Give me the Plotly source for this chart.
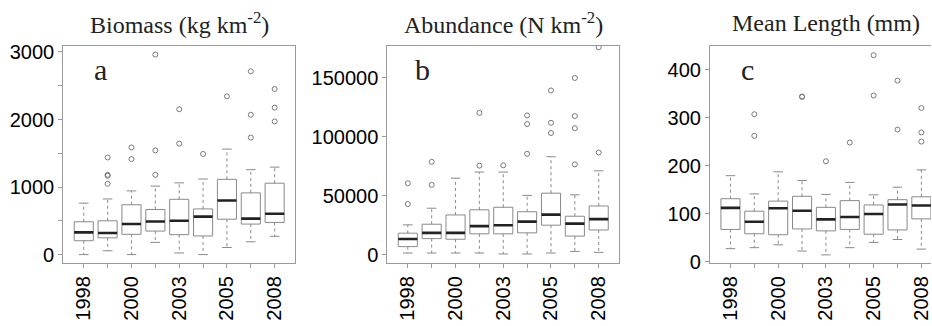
import plotly.graph_objects as go

W, H = 932, 326

# ---------------- data ----------------
years = ["1998", "1999", "2000", "2001", "2003", "2004", "2005", "2006", "2008"]
labeled_years = ["1998", "2000", "2003", "2005", "2008"]

# Panel a: Biomass (kg km-2)
bio_low = [0, 57, 0, 181, 24, 0, 105, 190, 271]
bio_q1 = [205, 248, 300, 348, 295, 276, 524, 452, 476]
bio_med = [329, 319, 452, 490, 500, 562, 800, 533, 605]
bio_q3 = [486, 500, 738, 667, 819, 676, 1114, 914, 1057]
bio_high = [762, 824, 943, 1014, 1062, 1119, 1562, 1257, 1295]
bio_out = [[], [1438, 1181, 1167, 1048], [1586, 1414], [2962, 1543, 1181],
           [2152, 1643], [1490], [2343], [2714, 2071, 1733], [2452, 2176, 1971]]

# Panel b: Abundance (N km-2)
abu_low = [1356, 1356, 1356, 1356, 542, 542, 1356, 2712, 1899]
abu_q1 = [6781, 13562, 13020, 17631, 17631, 18445, 24955, 15732, 20886]
abu_med = [13291, 18445, 18445, 24141, 24955, 27939, 33906, 26311, 30108]
abu_q3 = [18174, 25768, 33635, 37975, 40145, 36347, 52080, 32550, 41230]
abu_high = [25226, 39331, 64828, 69982, 69982, 50181, 83002, 50723, 71067]
abu_out = [[60488, 42857], [78662, 59132], [], [120163, 75407], [75678],
           [117993, 110669, 85443], [139150, 111754, 103074],
           [149729, 117450, 107143, 76492], [175769, 86528]]

# Panel c: Mean Length (mm)
len_low = [27, 29, 35, 22, 14, 29, 40, 46, 26]
len_q1 = [67, 58, 56, 68, 64, 67, 57, 66, 89]
len_med = [112, 83, 111, 106, 88, 93, 99, 119, 117]
len_q3 = [131, 105, 126, 136, 113, 127, 118, 129, 135]
len_high = [179, 141, 187, 169, 140, 165, 139, 155, 191]
len_out = [[], [307, 262], [], [344, 343], [209], [248], [430, 346], [377, 275],
           [320, 269, 250]]

titles = ["Biomass (kg km<sup>-2</sup>)", "Abundance (N km<sup>-2</sup>)", "Mean Length (mm)"]
letters = ["a", "b", "c"]

bio_ticks = [0, 1000, 2000, 3000]
bio_ticktext = ["0", "1000", "2000", "3000"]
bio_minor = 500
abu_ticks = [0, 50000, 100000, 150000]
abu_ticktext = ["0", "50000", "100000", "150000"]
abu_minor = 50000
len_ticks = [0, 100, 200, 300, 400]
len_ticktext = ["0", "100", "200", "300", "400"]
len_minor = 100

# ---------------- styling / layout ----------------
BOX_C = "#8a8a8a"
WHISK_C = "#8a8a8a"
FRAME_C = "#9a9a9a"
MED_C = "#222222"
SANS = "Liberation Sans, Arial, sans-serif"
SERIF = "Liberation Serif, Times New Roman, serif"


def px_x(p):
    return p / W


def px_y(p):
    return (H - p) / H


frames = [(63.3, 295.5), (387.7, 619.9), (710.7, 942.9)]
frame_top, frame_bot = 43.3, 270.0
unit_px = (frames[0][1] - frames[0][0]) / 9.72

panels = [
    (bio_low, bio_q1, bio_med, bio_q3, bio_high, bio_out, [-128, 3095],
     bio_ticks, bio_ticktext, bio_minor),
    (abu_low, abu_q1, abu_med, abu_q3, abu_high, abu_out, [-7300, 177200],
     abu_ticks, abu_ticktext, abu_minor),
    (len_low, len_q1, len_med, len_q3, len_high, len_out, [-3.4, 450],
     len_ticks, len_ticktext, len_minor),
]

fig = go.Figure()
pos = list(range(1, len(years) + 1))
label_pos = [pos[years.index(y)] for y in labeled_years]
BW = 0.8
CAP = 0.2

for k, (lo, q1, med, q3, hi, out, yr, tv, tt, minor_step) in enumerate(panels):
    xa = "x" if k == 0 else f"x{k+1}"
    ya = "y" if k == 0 else f"y{k+1}"
    wx, wy = [], []
    for p, a, b, c, d in zip(pos, lo, q1, q3, hi):
        wx += [p, p, None, p, p, None]
        wy += [c, d, None, b, a, None]
    fig.add_trace(go.Scatter(x=wx, y=wy, mode="lines", xaxis=xa, yaxis=ya,
                             line=dict(color=WHISK_C, width=1, dash="dot"),
                             hoverinfo="skip", showlegend=False))
    cx, cy = [], []
    for p, a, d in zip(pos, lo, hi):
        cx += [p - CAP, p + CAP, None, p - CAP, p + CAP, None]
        cy += [a, a, None, d, d, None]
    fig.add_trace(go.Scatter(x=cx, y=cy, mode="lines", xaxis=xa, yaxis=ya,
                             line=dict(color=WHISK_C, width=1),
                             hoverinfo="skip", showlegend=False))
    fig.add_trace(go.Box(x=pos, q1=q1, median=med, q3=q3, lowerfence=q1, upperfence=q3,
                         width=BW, whiskerwidth=0, xaxis=xa, yaxis=ya,
                         line=dict(color=BOX_C, width=1), fillcolor="white",
                         boxpoints=False, showlegend=False))
    mx, my = [], []
    for p, m in zip(pos, med):
        mx += [p - BW / 2, p + BW / 2, None]
        my += [m, m, None]
    fig.add_trace(go.Scatter(x=mx, y=my, mode="lines", xaxis=xa, yaxis=ya,
                             line=dict(color=MED_C, width=2.6),
                             hoverinfo="skip", showlegend=False))
    ox, oy = [], []
    for p, vals in zip(pos, out):
        for v in vals:
            ox.append(p)
            oy.append(v)
    fig.add_trace(go.Scatter(x=ox, y=oy, mode="markers", xaxis=xa, yaxis=ya,
                             marker=dict(symbol="circle-open", size=5, color="#7a7a7a",
                                         line=dict(width=1, color="#7a7a7a")),
                             hoverinfo="skip", showlegend=False))

    f0, f1 = frames[k]
    if k < 2:
        dom = [px_x(f0), px_x(f1)]
        xr = [0.14, 9.86]
    else:
        dom = [px_x(f0), 1.0]
        xr = [0.14, 0.14 + (W - f0) / unit_px]
    xkey = "xaxis" if k == 0 else f"xaxis{k+1}"
    ykey = "yaxis" if k == 0 else f"yaxis{k+1}"
    fig.update_layout(**{
        xkey: dict(domain=dom, range=xr, anchor=ya, tickmode="array", tickvals=label_pos,
                   ticktext=labeled_years, tickangle=-90, ticks="outside", ticklen=4,
                   tickcolor=FRAME_C, showline=True, linecolor=FRAME_C, linewidth=1,
                   mirror=True, showgrid=False, zeroline=False, ticklabeloverflow="allow",
                   minor=dict(tickmode="linear", tick0=1, dtick=1, ticks="outside",
                              ticklen=4, tickcolor=FRAME_C, showgrid=False),
                   tickfont=dict(family=SANS, size=20, color="black")),
        ykey: dict(domain=[px_y(frame_bot), px_y(frame_top)], range=yr, anchor=xa,
                   tickmode="array", tickvals=tv, ticktext=tt, ticks="outside", ticklen=4,
                   tickcolor=FRAME_C, showline=True, linecolor=FRAME_C, linewidth=1,
                   mirror=(k < 2), showgrid=False, zeroline=False,
                   minor=dict(tickmode="linear", tick0=0, dtick=minor_step, ticks="outside",
                              ticklen=4, tickcolor=FRAME_C, showgrid=False),
                   tickfont=dict(family=SANS, size=20, color="black")),
    })

    fig.add_annotation(text=titles[k], xref="paper", yref="paper",
                       x=px_x((f0 + f1) / 2), y=px_y(20.2), xanchor="center", yanchor="middle",
                       showarrow=False, font=dict(family=SERIF, size=24, color="#222"))

letter_x = [100.5, 423.3, 748.7]
for k in range(3):
    fig.add_annotation(text=letters[k], xref="paper", yref="paper",
                       x=px_x(letter_x[k]), y=px_y(68), xanchor="center", yanchor="middle",
                       showarrow=False, font=dict(family=SERIF, size=30, color="#222"))

fig.update_layout(width=W, height=H, margin=dict(l=0, r=0, t=0, b=0),
                  paper_bgcolor="white", plot_bgcolor="white", showlegend=False)

fig.write_html("out.html")
